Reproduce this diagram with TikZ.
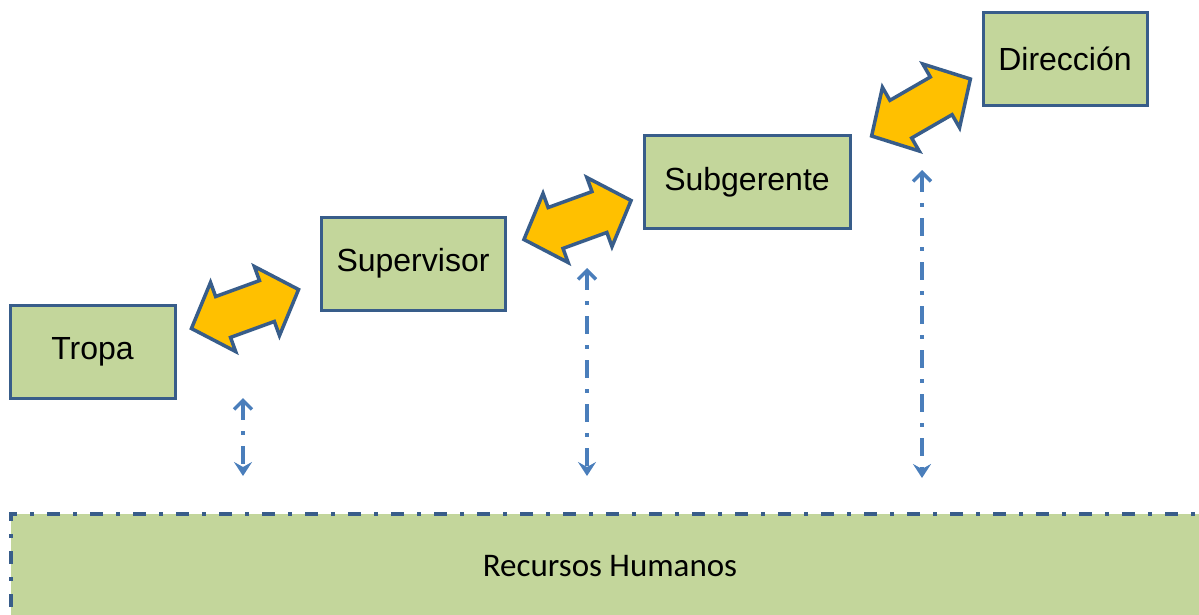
\documentclass[tikz,border=0pt]{standalone}
\usepackage{fontspec}
\setmainfont{Liberation Sans}
\newfontfamily\rhfont{Carlito}
\usetikzlibrary{shapes.arrows,arrows.meta}
\definecolor{boxfill}{HTML}{C3D69B}
\definecolor{boxline}{HTML}{385D8A}
\definecolor{gold}{HTML}{FFC000}
\definecolor{linkblue}{HTML}{4A7EBB}

\begin{document}
\begin{tikzpicture}[x=1pt,y=-1pt]

  % Set default font and styles
  \tikzset{
    every node/.style={font=\fontsize{32}{38}\selectfont},
    level/.style={draw=boxline, fill=boxfill, line width=3pt, minimum height=93pt, inner sep=0pt},
    swap/.style={double arrow, draw=boxline, fill=gold, line width=3.5pt, minimum height=114pt,
      inner sep=20pt, double arrow head extend=15pt, double arrow tip angle=95},
    hrlink/.style={draw=linkblue, line width=3.5pt, dash pattern=on 18pt off 11pt on 4pt off 11pt,
      {Straight Barb[length=9pt,width=18pt,line width=3.5pt]}-{Stealth[length=14pt,width=18pt,inset=5pt]}}
  }

  \useasboundingbox (0,0) rectangle (1199,614);
  \clip (0,0) rectangle (1199,614);

  % Recursos Humanos
  \node[
    draw=boxline,
    fill=boxfill,
    line width=3.5pt,
    dash pattern=on 13pt off 13pt on 4pt off 13pt,
    minimum width=1198pt,
    minimum height=104pt,
    font=\rhfont\fontsize{33}{38}\selectfont
  ] (rh) at (610,566) {Recursos Humanos};

  % Levels
  \node[level, minimum width=165pt] (tropa) at (92.5,351.5) {Tropa};
  \node[level, minimum width=184pt] (supervisor) at (413,263.5) {Supervisor};
  \node[level, minimum width=206pt] (subgerente) at (747,182) {Subgerente};
  \node[level, minimum width=164pt] (direccion) at (1065,58.5) {Dirección};

  % Exchange arrows
  \node[swap, rotate=20] (swap1) at (245,309) {};
  \node[swap, rotate=20] (swap2) at (577.5,220) {};
  \node[swap, rotate=30] (swap3) at (921,107.5) {};

  % Links to Recursos Humanos
  \coordinate (top1) at (243,398);
  \coordinate (top2) at (587,268);
  \coordinate (top3) at (922,170);
  \draw[hrlink] (top1) -- (top1 |- 0,476);
  \draw[hrlink] (top2) -- (top2 |- 0,476);
  \draw[hrlink] (top3) -- (top3 |- 0,478);

\end{tikzpicture}
\end{document}
